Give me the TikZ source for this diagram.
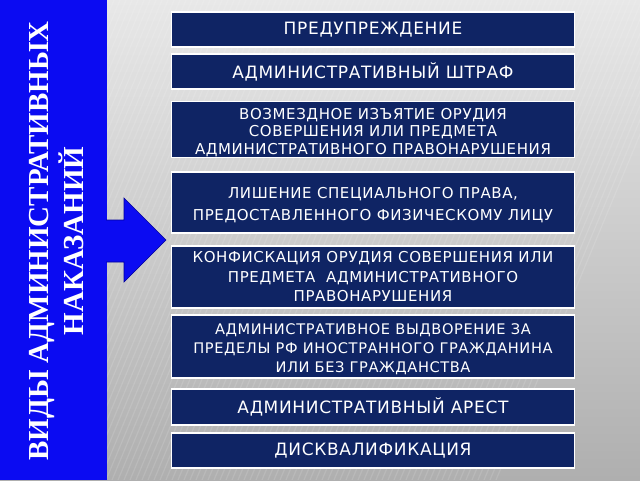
\documentclass[tikz,border=0pt]{standalone}
\usepackage{fontspec}
\setmainfont{Liberation Serif}
\newfontfamily\boxfont[LetterSpace=4]{DejaVu Sans}
\usepackage{tikz}
\definecolor{barblue}{HTML}{0B0BF2}
\definecolor{navy}{HTML}{0F2464}
\definecolor{bgtop}{HTML}{E8E8E8}
\definecolor{bgbot}{HTML}{AFAFAF}
\newcommand{\dropline}{\rule{0pt}{17pt}}

\begin{document}
\begin{tikzpicture}[x=1pt,y=-1pt,
    kind/.style={draw=white, line width=1.5pt, fill=navy, text=white,
      minimum width=403pt, align=center, inner sep=1pt,
      font=\boxfont\fontsize{15}{17.5}\selectfont},
    big/.style={font=\boxfont\fontsize{17}{18}\selectfont}]
      \useasboundingbox (0,0) rectangle (640,480);
      \shade [top color=bgtop, bottom color=bgbot] (0,0) rectangle (640,480);
      \foreach \i in {0,6,...,700}
        \draw [white, opacity=0.12, line width=1.2pt] (\i-200,480) -- (\i,0);
      \fill [barblue] (0,0) rectangle (107,480);
      \node [text=white, rotate=90, align=center,
        font=\bfseries\fontsize{29}{35}\selectfont] (title) at (56.5,241)
        {ВИДЫ АДМИНИСТРАТИВНЫХ\\НАКАЗАНИЙ};
      \draw [fill=barblue, draw=blue!60!black, line width=0.6pt]
        (106,220) -- (124,220) -- (124,198) -- (166,240)
        -- (124,282) -- (124,262) -- (106,262);
      \node [kind, big, minimum height=35pt] (warn) at (373,29.5)
        {ПРЕДУПРЕЖДЕНИЕ};
      \node [kind, big, minimum height=35pt] (fine) at (373,71.5)
        {АДМИНИСТРАТИВНЫЙ ШТРАФ};
      \node [kind, minimum height=55pt] (seize) at (373,129.5)
        {\dropline ВОЗМЕЗДНОЕ ИЗЪЯТИЕ ОРУДИЯ\\СОВЕРШЕНИЯ ИЛИ ПРЕДМЕТА\\АДМИНИСТРАТИВНОГО ПРАВОНАРУШЕНИЯ};
      \node [kind, minimum height=61pt, font=\boxfont\fontsize{15}{22}\selectfont] (deprive) at (373,202.5)
        {\dropline ЛИШЕНИЕ СПЕЦИАЛЬНОГО ПРАВА,\\ПРЕДОСТАВЛЕННОГО ФИЗИЧЕСКОМУ ЛИЦУ};
      \node [kind, minimum height=62pt, font=\boxfont\fontsize{15}{19.5}\selectfont] (confisc) at (373,277)
        {КОНФИСКАЦИЯ ОРУДИЯ СОВЕРШЕНИЯ ИЛИ\\ПРЕДМЕТА\ \ АДМИНИСТРАТИВНОГО\\ПРАВОНАРУШЕНИЯ};
      \node [kind, minimum height=63pt, font=\boxfont\fontsize{14.6}{19}\selectfont] (expel) at (373,346.5)
        {\dropline АДМИНИСТРАТИВНОЕ ВЫДВОРЕНИЕ ЗА\\ПРЕДЕЛЫ РФ ИНОСТРАННОГО ГРАЖДАНИНА\\ИЛИ БЕЗ ГРАЖДАНСТВА};
      \node [kind, big, minimum height=36pt] (arrest) at (373,407)
        {АДМИНИСТРАТИВНЫЙ АРЕСТ};
      \node [kind, big, minimum height=35pt] (disq) at (373,450.5)
        {ДИСКВАЛИФИКАЦИЯ};
    \end{tikzpicture}
\end{document}
